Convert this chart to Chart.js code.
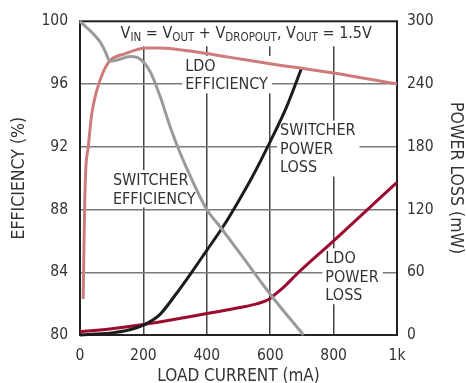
<!DOCTYPE html>
<html>
<head>
<meta charset="utf-8">
<script src="https://cdn.jsdelivr.net/npm/chart.js@4.4.1/dist/chart.umd.min.js"></script>
<style>
  html, body { margin: 0; padding: 0; background: #fff; }
  #wrap { width: 466px; height: 383px; }
</style>
</head>
<body>
<div id="wrap"><canvas id="chart" width="466" height="383"></canvas></div>
<script>
// load current (mA) and efficiency (%) / power loss (mW)
const swEffLoad = [0, 10, 32, 63, 79, 95, 120, 158, 185, 221, 253, 284, 316, 353, 400, 442, 505, 600, 705];
const swEff = [100, 99.8, 99.4, 98.7, 98.1, 97.45, 97.55, 97.75, 97.65, 96.8, 95.2, 93.3, 91.6, 89.9, 88.0, 86.9, 85.2, 82.6, 80.0];

const ldoEffLoad = [10, 12, 15, 18, 26, 37, 53, 74, 95, 137, 210, 253, 347, 474, 600, 800, 1000];
const ldoEff = [82.3, 85.0, 88.5, 90.5, 92.0, 94.1, 95.6, 96.8, 97.5, 97.9, 98.3, 98.3, 98.1, 97.7, 97.3, 96.7, 96.0];

const swLossLoad = [0, 50, 100, 150, 200, 250, 300, 350, 400, 450, 500, 550, 600, 650, 700];
const swLoss = [0, 1, 2, 4.5, 9.5, 19, 38, 59, 81, 103, 128, 155, 185, 217, 256];

const ldoLossLoad = [0, 100, 200, 300, 400, 500, 560, 595, 612, 640, 690, 800, 900, 1000];
const ldoLoss = [3, 6, 10, 15, 20.5, 26, 30, 34, 38, 45, 60, 90, 118, 146];

const effTicks = [80, 84, 88, 92, 96, 100];
const lossTicks = [0, 60, 120, 180, 240, 300];
const currentTicks = [0, 200, 400, 600, 800, 1000];
const currentLabels = ['0', '200', '400', '600', '800', '1k'];

const FONT = "'Liberation Sans Narrow', 'DejaVu Sans Condensed', sans-serif";
const INK = '#333';
const LINE_H = 18.5;

const pts = (xs, ys) => xs.map((x, i) => ({ x: x, y: ys[i] }));

// text notes inside the plot, anchored in data units (first baseline)
const notes = [
  { lines: ['LDO', 'EFFICIENCY'], x: 332, y: 96.84, axis: 'y' },
  { lines: ['SWITCHER', 'EFFICIENCY'], x: 104, y: 89.56, axis: 'y' },
  { lines: ['SWITCHER', 'POWER', 'LOSS'], x: 631, y: 190.8, axis: 'y1' },
  { lines: ['LDO', 'POWER', 'LOSS'], x: 774, y: 68.6, axis: 'y1' }
];

// condition line, [text, isSubscript]
const condition = [
  ['V', false], ['IN', true], [' = V', false], ['OUT', true], [' + V', false],
  ['DROPOUT', true], [', V', false], ['OUT', true], [' = 1.5V', false]
];

const notesPlugin = {
  id: 'notes',
  beforeDatasetsDraw(chart) {
    const { ctx, chartArea: a, scales } = chart;
    ctx.save();
    ctx.textBaseline = 'alphabetic';
    ctx.textAlign = 'left';

    ctx.font = '16px ' + FONT;
    notes.forEach(n => {
      const px = scales.x.getPixelForValue(n.x);
      const py = scales[n.axis].getPixelForValue(n.y);
      const w = Math.max(...n.lines.map(s => ctx.measureText(s).width));
      ctx.fillStyle = '#fff';
      ctx.fillRect(px - 3, py - 15, w + 7, (n.lines.length - 1) * LINE_H + 19);
      ctx.fillStyle = INK;
      n.lines.forEach((s, i) => ctx.fillText(s, px, py + i * LINE_H));
    });

    // condition line at the top
    let cx = scales.x.getPixelForValue(128);
    const base = a.top + 17;
    let total = 0;
    condition.forEach(([s, sub]) => {
      ctx.font = (sub ? '11.5px ' : '16px ') + FONT;
      total += ctx.measureText(s).width;
    });
    ctx.fillStyle = '#fff';
    ctx.fillRect(cx - 3, a.top, total + 6, 25);
    ctx.fillStyle = INK;
    condition.forEach(([s, sub]) => {
      ctx.font = (sub ? '11.5px ' : '16px ') + FONT;
      ctx.fillText(s, cx, base + (sub ? 2.7 : 0));
      cx += ctx.measureText(s).width;
    });

    // plot frame
    ctx.strokeStyle = '#222';
    ctx.lineWidth = 2;
    ctx.strokeRect(a.left, a.top, a.right - a.left, a.bottom - a.top);
    ctx.restore();
  }
};

const lineSet = (label, data, color, axis) => ({
  label: label,
  data: data,
  yAxisID: axis,
  borderColor: color,
  borderWidth: 3,
  pointRadius: 0,
  fill: false,
  cubicInterpolationMode: 'monotone',
  clip: 4
});

const ctx = document.getElementById('chart').getContext('2d');
new Chart(ctx, {
  type: 'line',
  data: {
    datasets: [
      lineSet('Switcher Efficiency', pts(swEffLoad, swEff), '#9a9a9a', 'y'),
      lineSet('LDO Efficiency', pts(ldoEffLoad, ldoEff), '#d07b7b', 'y'),
      lineSet('Switcher Power Loss', pts(swLossLoad, swLoss), '#1c1c1c', 'y1'),
      lineSet('LDO Power Loss', pts(ldoLossLoad, ldoLoss), '#9c0a30', 'y1')
    ]
  },
  options: {
    responsive: false,
    animation: false,
    layout: { padding: { top: 19, left: 0, right: 0, bottom: 0 } },
    plugins: {
      legend: { display: false },
      tooltip: { enabled: false }
    },
    scales: {
      x: {
        type: 'linear',
        min: 0,
        max: 1000,
        afterFit: s => { s.height = 48; },
        afterBuildTicks: s => { s.ticks = currentTicks.map(v => ({ value: v })); },
        ticks: {
          padding: 12,
          color: INK,
          font: { family: FONT, size: 15.5 },
          maxRotation: 0,
          callback: v => currentLabels[currentTicks.indexOf(v)]
        },
        grid: {
          drawTicks: false,
          lineWidth: 1.5,
          color: c => (c.tick && (c.tick.value === 0 || c.tick.value === 1000)) ? 'rgba(0,0,0,0)' : '#444'
        },
        border: { display: false },
        title: {
          display: true,
          text: 'LOAD CURRENT (mA)',
          color: INK,
          font: { family: FONT, size: 17, lineHeight: 0.8 },
          padding: { top: 0, bottom: 0 }
        }
      },
      y: {
        position: 'left',
        min: 80,
        max: 100,
        afterFit: s => { s.width = 80; },
        afterBuildTicks: s => { s.ticks = effTicks.map(v => ({ value: v })); },
        ticks: { padding: 12, color: INK, font: { family: FONT, size: 15.5 } },
        grid: {
          drawTicks: false,
          lineWidth: 1.5,
          color: c => (c.tick && (c.tick.value === 80 || c.tick.value === 100)) ? 'rgba(0,0,0,0)' : '#7a7a7a'
        },
        border: { display: false },
        title: {
          display: true,
          text: 'EFFICIENCY (%)',
          color: INK,
          font: { family: FONT, size: 17.5, lineHeight: 1 },
          padding: { top: 10.5, bottom: 0 }
        }
      },
      y1: {
        position: 'right',
        min: 0,
        max: 300,
        afterFit: s => { s.width = 69; },
        afterBuildTicks: s => { s.ticks = lossTicks.map(v => ({ value: v })); },
        ticks: { padding: 10, color: INK, font: { family: FONT, size: 15.5 } },
        grid: { drawOnChartArea: false, drawTicks: false },
        border: { display: false },
        title: {
          display: true,
          text: 'POWER LOSS (mW)',
          color: INK,
          font: { family: FONT, size: 17.5, lineHeight: 1 },
          padding: { top: 2, bottom: 0 }
        }
      }
    }
  },
  plugins: [notesPlugin]
});
</script>
</body>
</html>
